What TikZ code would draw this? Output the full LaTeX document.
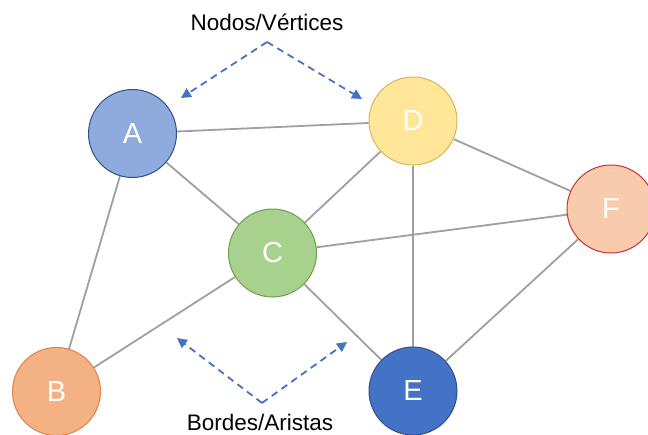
\documentclass[tikz,border=0pt]{standalone}
\usepackage{fontspec}
\setmainfont{Liberation Sans}
\usetikzlibrary{arrows.meta,backgrounds}
\definecolor{edgegray}{HTML}{A0A0A0}
\definecolor{arrowblue}{HTML}{4472C4}
\definecolor{afill}{HTML}{8FAADC}\definecolor{aline}{HTML}{2F528F}
\definecolor{dfill}{HTML}{FFE699}\definecolor{dline}{HTML}{D6B656}
\definecolor{ffill}{HTML}{F8CBAD}\definecolor{fline}{HTML}{C83232}
\definecolor{cfill}{HTML}{A9D18E}\definecolor{cline}{HTML}{6EA050}
\definecolor{bfill}{HTML}{F4B183}\definecolor{bline}{HTML}{DC8246}
\definecolor{efill}{HTML}{4472C4}\definecolor{eline}{HTML}{2F528F}
\begin{document}
\begin{tikzpicture}[x=1pt,y=-1pt,
  vertex/.style={circle,minimum size=88pt,inner sep=0pt,line width=1pt,
    text=white,font=\fontsize{29}{29}\selectfont},
  edge/.style={draw=edgegray,line width=1.8pt},
  pointer/.style={draw=arrowblue,line width=1.8pt,dash pattern=on 7pt off 5pt,
    -{Triangle[length=10pt,width=10pt]}},
  caption/.style={font=\fontsize{22.5}{22.5}\selectfont,text=black}]
\useasboundingbox (0,0) rectangle (648,434);

% vertices
\node[vertex,fill=afill,draw=aline] (A) at (132.5,133.5) {A};
\node[vertex,fill=dfill,draw=dline] (D) at (413,121) {D};
\node[vertex,fill=ffill,draw=fline] (F) at (611,209) {F};
\node[vertex,fill=cfill,draw=cline] (C) at (272.5,253) {C};
\node[vertex,fill=bfill,draw=bline] (B) at (56.5,391.5) {B};
\node[vertex,fill=efill,draw=eline] (E) at (413,391) {E};

% edges, behind the vertices
\begin{scope}[on background layer]
\fill[white] (0,0) rectangle (648,434);
\foreach \u/\v in {A/D,A/C,A/B,C/D,C/F,C/B,C/E,D/E,D/F,F/E}
  \path[edge] (\u) -- (\v);
\end{scope}

% captions and pointers
\node[caption] (top) at (267,22) {Nodos/Vértices};
\node[caption] (bot) at (260,422) {Bordes/Aristas};
\coordinate (tapex) at (267,42);
\coordinate (ttipl) at (181,98);
\coordinate (ttipr) at (362,99);
\coordinate (bapex) at (262,403);
\coordinate (btipl) at (177,338);
\coordinate (btipr) at (347,342);
\draw[pointer] (tapex) -- (ttipl);
\draw[pointer] (tapex) -- (ttipr);
\draw[pointer] (bapex) -- (btipl);
\draw[pointer] (bapex) -- (btipr);
\end{tikzpicture}
\end{document}
